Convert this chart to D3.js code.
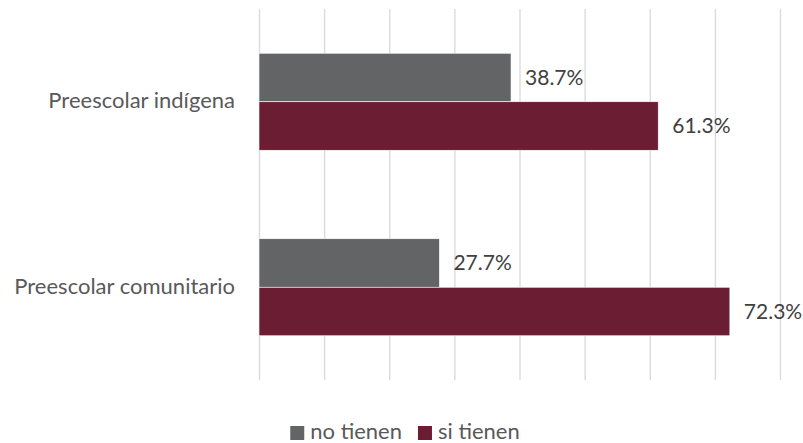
<!DOCTYPE html>
<html>
<head>
<meta charset="utf-8">
<script src="https://cdn.jsdelivr.net/npm/d3@7"></script>
<style>
  body { margin: 0; background: #fff; }
  text { font-family: Lato, "Open Sans", sans-serif; }
</style>
</head>
<body>
<div id="chart"></div>
<script>
const categories = ['Preescolar indígena', 'Preescolar comunitario']
const series = ['no tienen', 'si tienen']
const noTienen = [38.7, 27.7]
const siTienen = [61.3, 72.3]
const xTicks = [0, 10, 20, 30, 40, 50, 60, 70, 80]

const colors = { 'no tienen': '#636466', 'si tienen': '#6a1d33' }

const width = 803
const height = 443
const plot = { left: 259, right: 780, top: 9, bottom: 380 }
const fontSize = 22

const rows = categories.map((c, i) => ({
  category: c,
  values: [
    { key: series[0], value: noTienen[i] },
    { key: series[1], value: siTienen[i] }
  ]
}))

const svg = d3.select('#chart').append('svg')
  .attr('width', width)
  .attr('height', height)

const x = d3.scaleLinear()
  .domain([0, 80])
  .range([plot.left, plot.right])

const y0 = d3.scaleBand()
  .domain(categories)
  .range([plot.top, plot.bottom])
  .paddingInner(0.477)
  .paddingOuter(0.2385)

const y1 = d3.scaleBand()
  .domain(series)
  .range([0, y0.bandwidth()])

// gridlines
const grid = svg.append('g')
  .attr('transform', `translate(0, ${plot.bottom})`)
  .call(d3.axisBottom(x).tickValues(xTicks).tickSize(-(plot.bottom - plot.top)).tickFormat(''))
grid.select('.domain').remove()
grid.selectAll('line').attr('stroke', '#d9d9d9').attr('stroke-width', 1.3)

// category labels
svg.append('g')
  .selectAll('text')
  .data(categories)
  .enter()
  .append('text')
  .attr('x', plot.left - 24)
  .attr('y', d => y0(d) + y0.bandwidth() / 2 - 1)
  .attr('dy', '0.35em')
  .attr('text-anchor', 'end')
  .attr('fill', '#595959')
  .attr('font-size', fontSize)
  .text(d => d)

// bars
const groups = svg.append('g')
  .selectAll('g')
  .data(rows)
  .enter()
  .append('g')
  .attr('transform', d => `translate(0, ${y0(d.category)})`)

groups.selectAll('rect')
  .data(d => d.values)
  .enter()
  .append('rect')
  .attr('x', x(0))
  .attr('y', d => y1(d.key))
  .attr('width', d => x(d.value) - x(0))
  .attr('height', y1.bandwidth())
  .attr('fill', d => colors[d.key])
  .attr('stroke', '#fff')
  .attr('stroke-width', 0.6)

groups.selectAll('text')
  .data(d => d.values)
  .enter()
  .append('text')
  .attr('x', d => x(d.value) + 14)
  .attr('y', d => y1(d.key) + y1.bandwidth() / 2)
  .attr('dy', '0.35em')
  .attr('fill', '#404040')
  .attr('font-size', 21)
  .text(d => d.value.toFixed(1) + '%')

// legend
const legend = svg.append('g')
const items = legend.selectAll('g')
  .data(series)
  .enter()
  .append('g')

items.append('rect')
  .attr('width', 14)
  .attr('height', 14)
  .attr('y', -13)
  .attr('fill', d => colors[d])

items.append('text')
  .attr('x', 20)
  .attr('fill', '#595959')
  .attr('font-size', fontSize)
  .text(d => d)

const gap = 16
const widths = items.nodes().map(n => n.getBBox().width)
const total = d3.sum(widths) + gap
let offset = 0
items.attr('transform', (d, i) => {
  const t = `translate(${405 - total / 2 + offset}, 439)`
  offset += widths[i] + gap
  return t
})
</script>
</body>
</html>
